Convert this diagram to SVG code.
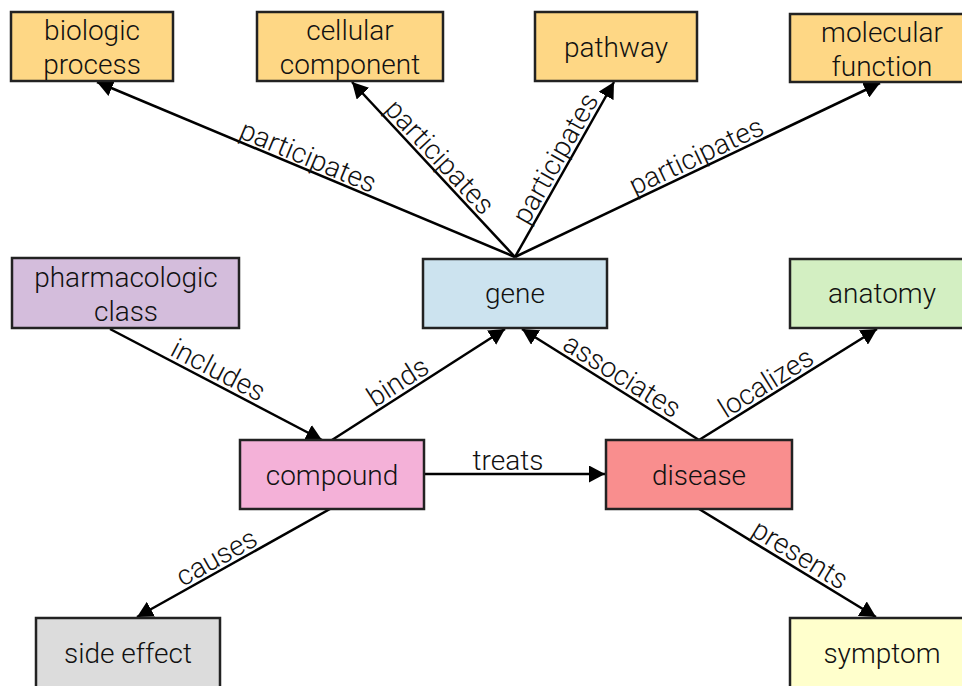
<svg xmlns="http://www.w3.org/2000/svg" width="962" height="686" viewBox="0 0 962 686">
  <style>
    .box { stroke: #222; stroke-width: 2.5; }
    .lbl { font-family: Roboto, "Liberation Sans", Arial, sans-serif; font-weight: 300; font-size: 28px; fill: #111; text-anchor: middle; }
    .edge { stroke: #000; stroke-width: 2.5; fill: none; marker-end: url(#arrow); }
    .go { fill: #fed785; }
  </style>
  <defs>
    <marker id="arrow" markerUnits="userSpaceOnUse" markerWidth="17" markerHeight="17" refX="16" refY="8.5" orient="auto" viewBox="0 0 17 17">
      <path d="M0,0 L16,8.5 L0,17 z" fill="#000"/>
    </marker>
  </defs>

  <!-- connectors -->
  <g id="edges">
    <line class="edge" x1="515" y1="257" x2="97" y2="82"/>
    <line class="edge" x1="515" y1="257" x2="352" y2="82"/>
    <line class="edge" x1="515" y1="257" x2="614" y2="82"/>
    <line class="edge" x1="515" y1="257" x2="880" y2="83"/>
    <line class="edge" x1="110" y1="329" x2="322" y2="440"/>
    <line class="edge" x1="332" y1="440" x2="505" y2="329"/>
    <line class="edge" x1="699" y1="440" x2="522" y2="329"/>
    <line class="edge" x1="699" y1="440" x2="877" y2="329"/>
    <line class="edge" x1="424" y1="474" x2="605" y2="474"/>
    <line class="edge" x1="330" y1="509" x2="137" y2="617"/>
    <line class="edge" x1="699" y1="509" x2="876" y2="617"/>

    <text class="lbl" transform="translate(303,169) rotate(22.7)" y="-4">participates</text>
    <text class="lbl" transform="translate(430,166) rotate(47)" y="-4">participates</text>
    <text class="lbl" transform="translate(567,165) rotate(-60.5)" y="-4">participates</text>
    <text class="lbl" transform="translate(702,168) rotate(-25.4)" y="-4">participates</text>
    <text class="lbl" transform="translate(212,382) rotate(27.6)" y="-4">includes</text>
    <text class="lbl" transform="translate(405,393) rotate(-32.7)" y="-4">binds</text>
    <text class="lbl" transform="translate(615,387) rotate(32.1)" y="-4">associates</text>
    <text class="lbl" transform="translate(773,394) rotate(-32)" y="-4">localizes</text>
    <text class="lbl" x="508" y="470">treats</text>
    <text class="lbl" transform="translate(223,569) rotate(-29.2)" y="-4">causes</text>
    <text class="lbl" transform="translate(793,566) rotate(31.4)" y="-4">presents</text>
  </g>

  <!-- nodes -->
  <g id="biologic-process">
    <rect class="box go" x="11" y="12" width="162" height="69"/>
    <text class="lbl" x="92" y="40">biologic</text>
    <text class="lbl" x="92" y="74">process</text>
  </g>
  <g id="cellular-component">
    <rect class="box go" x="257" y="12" width="186" height="69"/>
    <text class="lbl" x="350" y="40">cellular</text>
    <text class="lbl" x="350" y="74">component</text>
  </g>
  <g id="pathway">
    <rect class="box go" x="535" y="12" width="162" height="69"/>
    <text class="lbl" x="616" y="57">pathway</text>
  </g>
  <g id="molecular-function">
    <rect class="box go" x="790" y="14" width="200" height="68"/>
    <text class="lbl" x="882" y="42">molecular</text>
    <text class="lbl" x="882" y="76">function</text>
  </g>
  <g id="pharmacologic-class">
    <rect class="box" fill="#d4bddc" x="12" y="258" width="227" height="70"/>
    <text class="lbl" x="126" y="287">pharmacologic</text>
    <text class="lbl" x="126" y="321">class</text>
  </g>
  <g id="gene">
    <rect class="box" fill="#cce3ef" x="423" y="259" width="184" height="69"/>
    <text class="lbl" x="515" y="303">gene</text>
  </g>
  <g id="anatomy">
    <rect class="box" fill="#d3efc2" x="790" y="259" width="200" height="69"/>
    <text class="lbl" x="882" y="303">anatomy</text>
  </g>
  <g id="compound">
    <rect class="box" fill="#f4b1d8" x="240" y="440" width="184" height="69"/>
    <text class="lbl" x="332" y="485">compound</text>
  </g>
  <g id="disease">
    <rect class="box" fill="#f98e8e" x="606" y="440" width="186" height="69"/>
    <text class="lbl" x="699" y="485">disease</text>
  </g>
  <g id="side-effect">
    <rect class="box" fill="#dcdcdc" x="36" y="618" width="184" height="80"/>
    <text class="lbl" x="128" y="663">side effect</text>
  </g>
  <g id="symptom">
    <rect class="box" fill="#ffffcc" x="790" y="618" width="200" height="80"/>
    <text class="lbl" x="882" y="663">symptom</text>
  </g>
</svg>
